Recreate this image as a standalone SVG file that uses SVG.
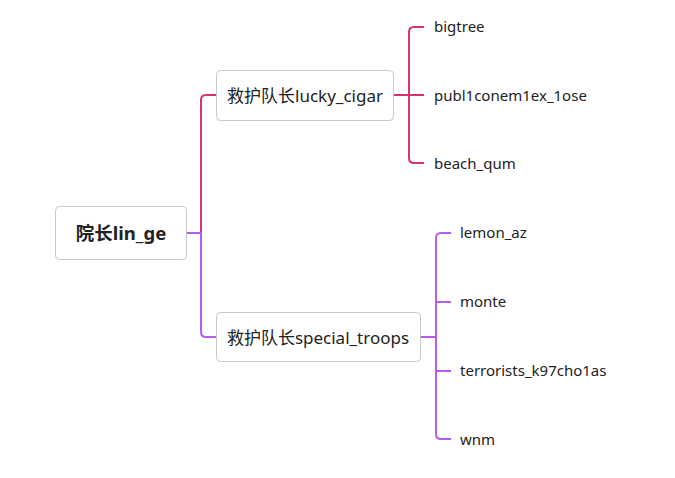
<svg xmlns="http://www.w3.org/2000/svg" width="675" height="478" viewBox="0 0 675 478">
<style>
.box{fill:#fff;stroke:#c8c8c8;stroke-width:1}
.t{font-family:"Noto Sans","Noto Sans CJK SC",sans-serif;fill:#222}
.root{font-size:18.5px;font-weight:bold}
.mid{font-size:17px}
.leaf{font-size:15px}
.pk{fill:none;stroke:#d8336d;stroke-width:2}
.pu{fill:none;stroke:#b85cf0;stroke-width:2}
</style>
<rect width="675" height="478" fill="#fff"/>
<g id="connectors">
<path class="pk" d="M201 233 V100 Q201 95 206 95 H216"/>
<path class="pu" d="M186 233 H201 V332 Q201 337 206 337 H216"/>
<path class="pk" d="M393 95 H424 M409 95 V32 Q409 27 414 27 H424 M409 95 V158 Q409 163 414 163 H424"/>
<path class="pu" d="M420 337 H436 M436 302 H451 M436 371 H451 M436 337 V238 Q436 233 441 233 H451 M436 337 V434 Q436 439 441 439 H451"/>
</g>
<g id="root"><rect class="box" x="55.5" y="206.5" width="131" height="53" rx="4"/><text class="t root" x="121" y="239.5" text-anchor="middle">院长lin_ge</text></g>
<g id="n1"><rect class="box" x="216.5" y="70.5" width="177" height="50" rx="4"/><text class="t mid" x="305" y="101.5" text-anchor="middle">救护队长lucky_cigar</text></g>
<g id="n2"><rect class="box" x="216.5" y="312.5" width="204" height="49" rx="4"/><text class="t mid" x="318" y="343.5" text-anchor="middle">救护队长special_troops</text></g>
<g id="l1"><text class="t leaf" x="434" y="32">bigtree</text></g>
<g id="l2"><text class="t leaf" x="434" y="101">publ1conem1ex_1ose</text></g>
<g id="l3"><text class="t leaf" x="434" y="169">beach_qum</text></g>
<g id="l4"><text class="t leaf" x="460" y="238">lemon_az</text></g>
<g id="l5"><text class="t leaf" x="460" y="307">monte</text></g>
<g id="l6"><text class="t leaf" x="460" y="376">terrorists_k97cho1as</text></g>
<g id="l7"><text class="t leaf" x="460" y="445">wnm</text></g>
</svg>
